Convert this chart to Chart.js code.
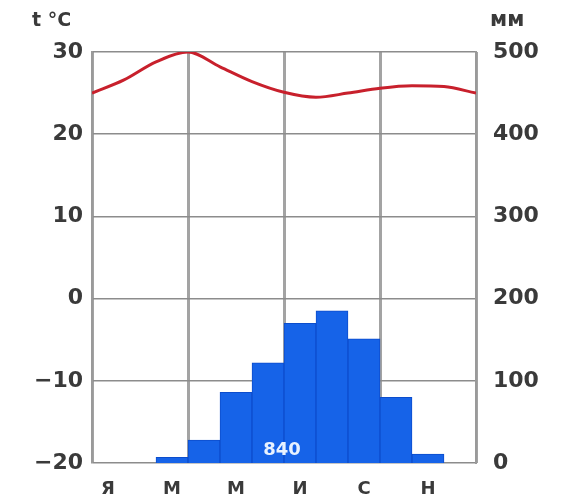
<!DOCTYPE html>
<html>
<head>
<meta charset="utf-8">
<script src="https://cdn.jsdelivr.net/npm/chart.js@4"></script>
<style>
  html, body { margin: 0; padding: 0; background: #fff; }
  #wrap { width: 561px; height: 495px; position: relative; }
</style>
</head>
<body>
<div id="wrap"><canvas id="climate" width="561" height="495"></canvas></div>
<script>
// month initials (category axis)
const months = ['Я', 'Ф', 'М', 'А', 'М', 'И', 'И', 'А', 'С', 'О', 'Н', 'Д'];
// precipitation, mm per month
const precip = [0, 0, 7, 28, 86, 122, 170, 185, 151, 80, 11, 0];
const precipTotal = '840';
// temperature curve, sampled at month boundaries (0..12)
const temps = [25.0, 26.6, 28.8, 30.0, 28.2, 26.4, 25.1, 24.5, 25.0, 25.6, 25.9, 25.8, 25.0];
// axis ticks
const tempTicks = [-20, -10, 0, 10, 20, 30];
const mmTicks = [0, 100, 200, 300, 400, 500];

const tickFont = { family: "'DejaVu Sans', sans-serif", size: 22, weight: 'bold' };
const textCol = '#3a3a3a';

// unit labels and the annual total
const labelsPlugin = {
    id: 'labels',
    afterDatasetsDraw(chart) {
        const ctx = chart.ctx;
        const x = chart.scales.x, y1 = chart.scales.y1;
        ctx.save();
        ctx.fillStyle = textCol;
        ctx.textBaseline = 'middle';
        ctx.font = "bold 19px 'DejaVu Sans', sans-serif";
        ctx.textAlign = 'left';
        ctx.fillText('t °C', 32, 21);
        ctx.font = "bold 21px 'DejaVu Sans', sans-serif";
        ctx.fillText('мм', 490, 21);
        // total inside the bars
        const cx = (x.getPixelForValue(5) + x.getPixelForValue(6)) / 2;
        ctx.fillStyle = '#e8f2ff';
        ctx.textAlign = 'center';
        ctx.font = "bold 18px 'DejaVu Sans', sans-serif";
        ctx.fillText(precipTotal, cx - 2, y1.getPixelForValue(16));
        ctx.restore();
    }
};

new Chart(document.getElementById('climate'), {
    data: {
        labels: months,
        datasets: [
            {
                type: 'line',
                data: temps.map((t, i) => ({ x: i, y: t })),
                xAxisID: 'xt',
                yAxisID: 'y',
                borderColor: '#c8202c',
                borderWidth: 3,
                pointRadius: 0,
                cubicInterpolationMode: 'monotone',
                fill: false,
                order: 0
            },
            {
                type: 'bar',
                data: precip,
                xAxisID: 'x',
                yAxisID: 'y1',
                backgroundColor: '#1663e8',
                borderColor: '#0c4dcc',
                borderWidth: 1,
                grouped: false,
                barPercentage: 1,
                categoryPercentage: 1,
                order: 1
            }
        ]
    },
    options: {
        responsive: false,
        animation: false,
        layout: { padding: { top: 52, bottom: 0, left: 0, right: 0 } },
        plugins: { legend: { display: false }, tooltip: { enabled: false } },
        scales: {
            x: {
                type: 'category',
                position: 'bottom',
                offset: true,
                grid: { display: false },
                border: { display: false },
                ticks: {
                    autoSkip: false,
                    maxRotation: 0,
                    padding: 8,
                    color: textCol,
                    font: { family: "'DejaVu Sans', sans-serif", size: 18, weight: 'bold' },
                    callback: (v, i) => (i % 2 === 0 ? months[i] : '')
                },
                afterFit: s => { s.height = 32; }
            },
            xt: {
                type: 'linear',
                position: 'bottom',
                min: 0,
                max: 12,
                offset: false,
                ticks: { display: false, stepSize: 3 },
                grid: { color: '#a3a3a3', lineWidth: 3, drawTicks: false },
                border: { display: false },
                afterFit: s => { s.height = 0; }
            },
            y: {
                position: 'left',
                min: -20,
                max: 30,
                afterBuildTicks: s => { s.ticks = tempTicks.map(v => ({ value: v })); },
                ticks: {
                    padding: 9,
                    color: textCol,
                    font: tickFont,
                    callback: v => (v < 0 ? '−' + Math.abs(v) : String(v))
                },
                grid: { color: '#8c8c8c', lineWidth: 1.5, drawTicks: false },
                border: { color: '#9a9a9a', width: 2 },
                afterFit: s => { s.width = 92; }
            },
            y1: {
                position: 'right',
                min: 0,
                max: 500,
                afterBuildTicks: s => { s.ticks = mmTicks.map(v => ({ value: v })); },
                ticks: { padding: 9, color: textCol, font: tickFont },
                grid: { display: false },
                border: { color: '#9a9a9a', width: 2 },
                afterFit: s => { s.width = 85; }
            }
        }
    },
    plugins: [labelsPlugin]
});
</script>
</body>
</html>
